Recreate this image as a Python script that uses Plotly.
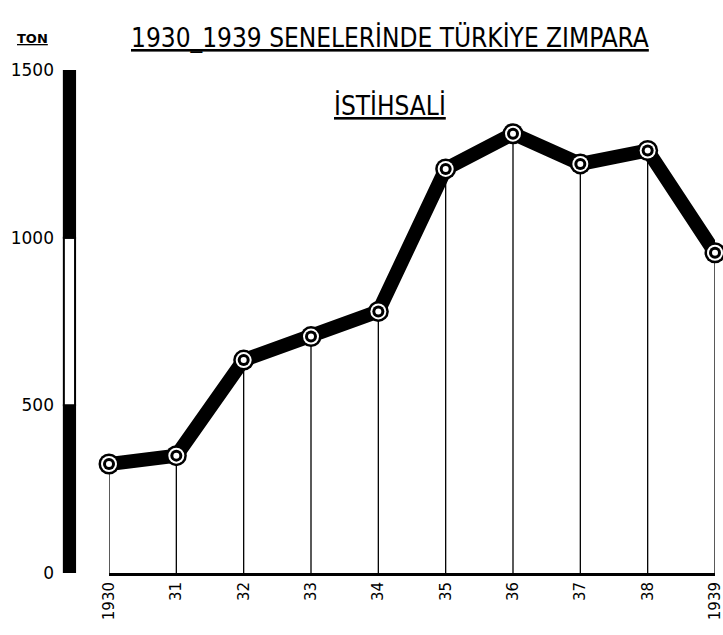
import plotly.graph_objects as go

years = [1930, 1931, 1932, 1933, 1934, 1935, 1936, 1937, 1938, 1939]
year_labels = ["1930", "31", "32", "33", "34", "35", "36", "37", "38", "1939"]
tons = [325, 350, 635, 705, 780, 1205, 1310, 1220, 1260, 955]
y_ticks = [0, 500, 1000, 1500]
title_line1 = "1930_1939 SENELERİNDE TÜRKİYE ZIMPARA"
title_line2 = "İSTİHSALİ"
unit_label = "TON"

fig = go.Figure()

# vertical drop lines
dx, dy = [], []
for x, v in zip(years, tons):
    dx += [x, x, None]
    dy += [0, v, None]
fig.add_trace(go.Scatter(x=dx, y=dy, mode="lines", line=dict(color="black", width=1.3),
                         hoverinfo="skip", showlegend=False, cliponaxis=False))

# thick line
fig.add_trace(go.Scatter(x=years, y=tons, mode="lines", line=dict(color="black", width=14),
                         showlegend=False, cliponaxis=False))

# target markers
for size, col in [(21, "black"), (16, "white"), (12, "black"), (6, "white")]:
    fig.add_trace(go.Scatter(x=years, y=tons, mode="markers",
                             marker=dict(size=size, color=col, line=dict(width=0)),
                             showlegend=False, cliponaxis=False, hoverinfo="skip"))

# scale bar on the left (alternating segments)
x0, x1 = -0.0745, -0.0560
for i in range(len(y_ticks) - 1):
    lo, hi = y_ticks[i], y_ticks[i + 1]
    fill = "black" if i % 2 == 0 else "white"
    fig.add_shape(type="rect", xref="paper", yref="y", x0=x0, x1=x1, y0=lo, y1=hi,
                  fillcolor=fill, line=dict(color="black", width=2), layer="above")

fig.add_annotation(text=unit_label, xref="paper", yref="paper", x=-0.127, y=1.062,
                   showarrow=False, xanchor="center", yanchor="middle",
                   font=dict(family="DejaVu Sans", size=13, color="black", weight="bold",
                             lineposition="under"))

for txt, yy, sz in [(title_line1, 1.064, 26), (title_line2, 0.93, 26)]:
    fig.add_annotation(text=txt, xref="paper", yref="paper", x=0.464, y=yy,
                       showarrow=False, xanchor="center", yanchor="middle",
                       font=dict(family="DejaVu Sans Condensed, DejaVu Sans", size=sz,
                                 color="black", lineposition="under"))

fig.update_layout(
    width=723, height=635,
    margin=dict(l=109, r=8, t=70, b=62),
    paper_bgcolor="white", plot_bgcolor="white",
    showlegend=False,
    xaxis=dict(range=[1930, 1939], tickmode="array", tickvals=years, ticktext=year_labels,
               tickangle=-90, showgrid=False, zeroline=False, showline=True,
               linecolor="black", linewidth=3, ticks="", automargin=False,
               ticklabeloverflow="allow",
               tickfont=dict(family="DejaVu Sans", size=15, color="black")),
    yaxis=dict(range=[0, 1500], tickmode="array", tickvals=y_ticks,
               ticktext=[str(t) for t in y_ticks], showgrid=False, zeroline=False,
               showline=False, ticks="", ticklabelstandoff=54, automargin=False,
               tickfont=dict(family="DejaVu Sans", size=17, color="black")),
)

fig.write_html("out.html", config={"displayModeBar": False},
               post_script="document.body.style.margin='0';document.body.style.overflow='hidden';")
